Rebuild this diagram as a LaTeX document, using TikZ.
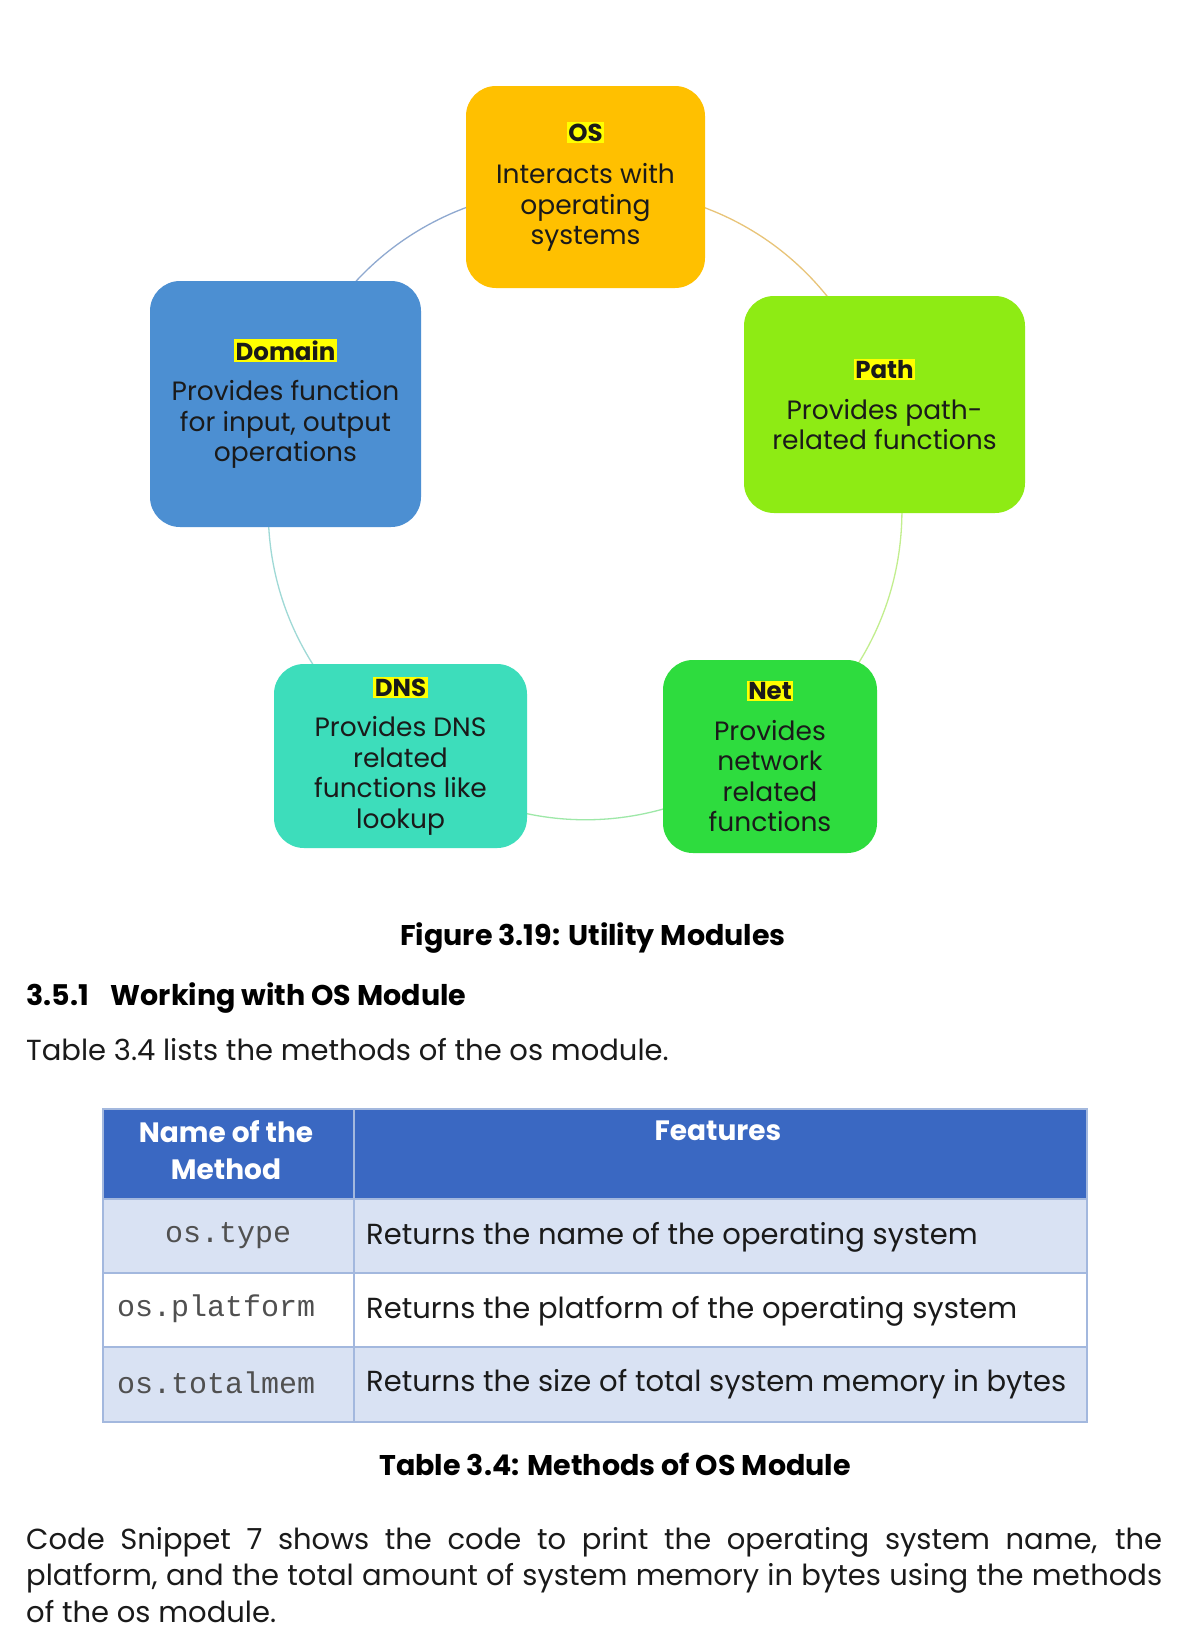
\documentclass[tikz,border=0pt]{standalone}
\usepackage{fontspec}
\setmainfont{Poppins}
\newfontfamily\monof{Liberation Mono}
\usetikzlibrary{backgrounds}
\definecolor{osc}{HTML}{FFC000}
\definecolor{domc}{HTML}{4C8FD2}
\definecolor{pathc}{HTML}{8EEB14}
\definecolor{dnsc}{HTML}{3DDDBB}
\definecolor{netc}{HTML}{2EDC3E}
\definecolor{hl}{HTML}{FFFF00}
\definecolor{thead}{HTML}{3A68C2}
\definecolor{trow}{HTML}{D9E2F3}
\definecolor{tline}{HTML}{A3B8DE}
\definecolor{codegray}{HTML}{505050}
\definecolor{txt}{HTML}{1A1A1A}
\definecolor{arcA}{HTML}{8FA9D0}
\definecolor{arcB}{HTML}{E8C478}
\definecolor{arcC}{HTML}{C2EE8E}
\definecolor{arcD}{HTML}{9EE8A8}
\definecolor{arcE}{HTML}{9FD9D6}
\newcommand{\modlabel}[1]{{\setlength{\fboxsep}{1.5pt}\colorbox{hl}{\bfseries\fontsize{24.5}{30}\selectfont #1}}}
\begin{document}
\begin{tikzpicture}[x=1pt,y=-1pt,
  module/.style={rounded corners=30pt, inner sep=0pt, align=center,
    font=\fontsize{26.5}{30.5}\selectfont, text=txt},
  ring/.style={line width=1.3pt},
  cell/.style={draw=tline, line width=1.5pt, inner sep=0pt, anchor=north west},
  codetxt/.style={font=\monof\fontsize{30}{30}\selectfont, text=codegray, inner sep=0pt},
  rowtxt/.style={anchor=west, font=\fontsize{29}{32}\selectfont, text=txt, inner sep=0pt},
  captxt/.style={font=\bfseries\fontsize{28.5}{30}\selectfont, text=black, inner sep=0pt},
  bodytxt/.style={font=\fontsize{29}{36.5}\selectfont, text=txt, inner sep=0pt}]
\useasboundingbox (0,0) rectangle (1200,1642);

% modules
\node[module, fill=osc, minimum width=239pt, minimum height=202pt] (os) at (585.5,187)
  {\modlabel{OS}\\[12pt]Interacts with\\operating\\systems};
\node[module, fill=domc, minimum width=271pt, minimum height=246pt] (domain) at (285.5,404)
  {\modlabel{Domain}\\[10pt]Provides function\\for input, output\\operations};
\node[module, fill=pathc, minimum width=281pt, minimum height=217pt] (path) at (884.5,404.5)
  {\modlabel{Path}\\[10pt]Provides path-\\related functions};
\node[module, fill=dnsc, minimum width=253pt, minimum height=184pt] (dns) at (400.5,756)
  {\modlabel{DNS}\\[10pt]Provides DNS\\related\\functions like\\lookup};
\node[module, fill=netc, minimum width=214pt, minimum height=193pt] (net) at (770,756.5)
  {\modlabel{Net}\\[10pt]Provides\\network\\related\\functions};

\begin{scope}[on background layer]
  \fill[white] (0,0) rectangle (1200,1642);
  \draw[ring, draw=arcB] (os.center) to[bend left=36] (path.center);
  \draw[ring, draw=arcC] (path.center) to[bend left=36] (net.center);
  \draw[ring, draw=arcD] (net.center) to[bend left=36] (dns.center);
  \draw[ring, draw=arcE] (dns.center) to[bend left=36] (domain.center);
  \draw[ring, draw=arcA] (domain.center) to[bend left=36] (os.center);
\end{scope}

% captions and text
\node[captxt] (figcap) at (593,938) {Figure 3.19: Utility Modules};
\node[captxt, anchor=west] (sec) at (26,998)
  {3.5.1\hspace{22pt}Working with OS Module};
\node[bodytxt, anchor=west] (intro) at (26,1050) {Table 3.4 lists the methods of the os module.};

% table
\node[cell, fill=thead, minimum width=251pt, minimum height=90pt] (h1) at (102,1108) {};
\node[cell, fill=thead, minimum width=733pt, minimum height=90pt] (h2) at (353,1108) {};
\node[align=center, text=white, inner sep=0pt, font=\bfseries\fontsize{28}{37}\selectfont] (h1t) at (226,1150) {Name of the\\Method};
\node[text=white, inner sep=0pt, font=\bfseries\fontsize{28}{37}\selectfont] (h2t) at (718,1131) {Features};

\node[cell, fill=trow, minimum width=251pt, minimum height=74pt] (a1) at (102,1198) {};
\node[cell, fill=trow, minimum width=733pt, minimum height=74pt] (a2) at (353,1198) {};
\node[cell, fill=white, minimum width=251pt, minimum height=74pt] (b1) at (102,1272) {};
\node[cell, fill=white, minimum width=733pt, minimum height=74pt] (b2) at (353,1272) {};
\node[cell, fill=trow, minimum width=251pt, minimum height=75pt] (c1) at (102,1346) {};
\node[cell, fill=trow, minimum width=733pt, minimum height=75pt] (c2) at (353,1346) {};

\node[codetxt] (a1t) at (a1.center) {os.type};
\node[codetxt, anchor=west] (b1t) at (117,1309) {os.platform};
\node[codetxt, anchor=west] (c1t) at (117,1383) {os.totalmem};
\node[rowtxt] (a2t) at (366,1237) {Returns the name of the operating system};
\node[rowtxt] (b2t) at (366,1311) {Returns the platform of the operating system};
\node[rowtxt] (c2t) at (366,1384) {Returns the size of total system memory in bytes};

\node[captxt] (tabcap) at (615,1464) {Table 3.4: Methods of OS Module};

\node[bodytxt, anchor=north west, text width=1136pt, align=justify] (para) at (26,1527)
  {Code Snippet 7 shows the code to print the operating system name, the\linebreak
   platform, and the total amount of system memory in bytes using the methods\linebreak
   of the os module.};
\end{tikzpicture}
\end{document}
